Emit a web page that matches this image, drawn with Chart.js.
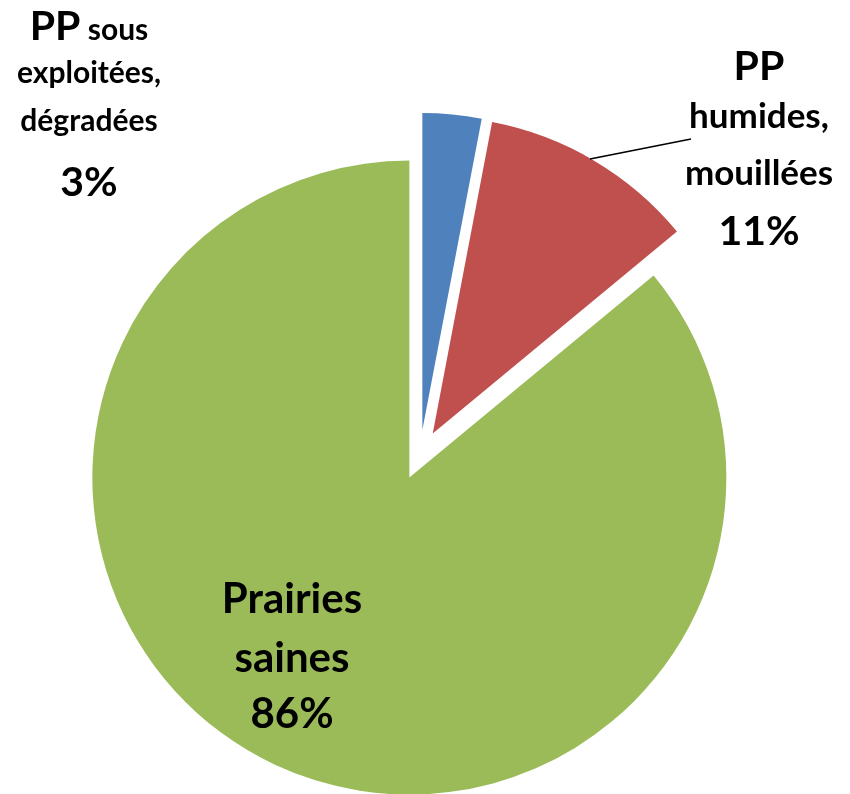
<!DOCTYPE html>
<html>
<head>
<meta charset="utf-8">
<script src="https://cdn.jsdelivr.net/npm/chart.js@4.4.1/dist/chart.umd.min.js"></script>
<style>
  html, body { margin: 0; padding: 0; background: #fff; }
  #holder { width: 850px; height: 794px; overflow: hidden; }
</style>
</head>
<body>
<div id="holder"><canvas id="pie" width="850" height="794"></canvas></div>
<script>
// data
const categories = ["PP sous exploitées, dégradées", "PP humides, mouillées", "Prairies saines"];
const values = [3, 11, 86];
const colors = ["#4F81BD", "#C0504D", "#9BBB59"];
// how each category name is broken into lines on the chart
const labelLines = [
    [["PP", "sous"], ["exploitées,"], ["dégradées"]],
    [["PP"], ["humides,"], ["mouillées"]],
    [["Prairies"], ["saines"]]
];

const FONT = "Lato";
const SCALE = 0.92; // Lato runs a bit wider than Calibri
const EXPLODE = 25; // px every slice is pulled out, like excel's "point explosion"

// label boxes: center x, baselines, sizes (big = "PP"/percent, small = words)
const labelLayout = [
    { x: 89, baselines: [40, 83, 131, 196], big: 45, small: 33 },
    { x: 759, baselines: [80, 128, 185, 245], big: 45, small: 38 },
    { x: 292, baselines: [613, 672, 728], big: 46, small: 46 }
];

function font(size){
    return `bold ${Math.round(size * SCALE)}px "${FONT}"`;
}

// chart.js "offset" also grows the arc radius, so move the arcs ourselves instead
const explodePlugin = {
    id: "explode",
    beforeDatasetsDraw(chart){
        const area = chart.chartArea;
        const cx = (area.left + area.right) / 2;
        const cy = (area.top + area.bottom) / 2;
        chart.getDatasetMeta(0).data.forEach(arc => {
            const mid = (arc.startAngle + arc.endAngle) / 2;
            arc.x = cx + Math.cos(mid) * EXPLODE;
            arc.y = cy + Math.sin(mid) * EXPLODE;
        });
    }
};

const labelPlugin = {
    id: "pieLabels",
    afterDatasetsDraw(chart){
        const ctx = chart.ctx;
        ctx.save();
        ctx.fillStyle = "#000";
        ctx.textBaseline = "alphabetic";

        // leader line for the red slice
        ctx.strokeStyle = "#000";
        ctx.lineWidth = 1.6;
        ctx.beginPath();
        ctx.moveTo(590, 159);
        ctx.lineTo(691, 139);
        ctx.stroke();

        labelLines.forEach((lines, i) => {
            const lay = labelLayout[i];
            const all = lines.map(l => l.slice());
            all.push([values[i] + "%"]);
            all.forEach((parts, li) => {
                // "PP" and the percent are in the big size
                const sizes = parts.map(p => (p === "PP" || li === all.length - 1) ? lay.big : lay.small);
                const widths = parts.map((p, pi) => { ctx.font = font(sizes[pi]); return ctx.measureText(p).width; });
                ctx.font = font(lay.small);
                const gap = parts.length > 1 ? ctx.measureText(" ").width : 0;
                const total = widths.reduce((a, b) => a + b, 0) + gap * (parts.length - 1);
                let x = lay.x - total / 2;
                ctx.textAlign = "left";
                parts.forEach((p, pi) => {
                    ctx.font = font(sizes[pi]);
                    ctx.fillText(p, x, lay.baselines[li]);
                    x += widths[pi] + gap;
                });
            });
        });
        ctx.restore();
    }
};

const chart = new Chart(document.getElementById("pie"), {
    type: "pie",
    data: {
        labels: categories,
        datasets: [{
            data: values,
            backgroundColor: colors,
            borderWidth: 0,
            hoverOffset: 0,
            clip: false
        }]
    },
    options: {
        responsive: false,
        animation: false,
        radius: 317,
        layout: { padding: { left: 0, right: 10, top: 116, bottom: 0 } },
        events: [],
        plugins: {
            legend: { display: false },
            tooltip: { enabled: false }
        }
    },
    plugins: [explodePlugin, labelPlugin]
});
</script>
</body>
</html>
